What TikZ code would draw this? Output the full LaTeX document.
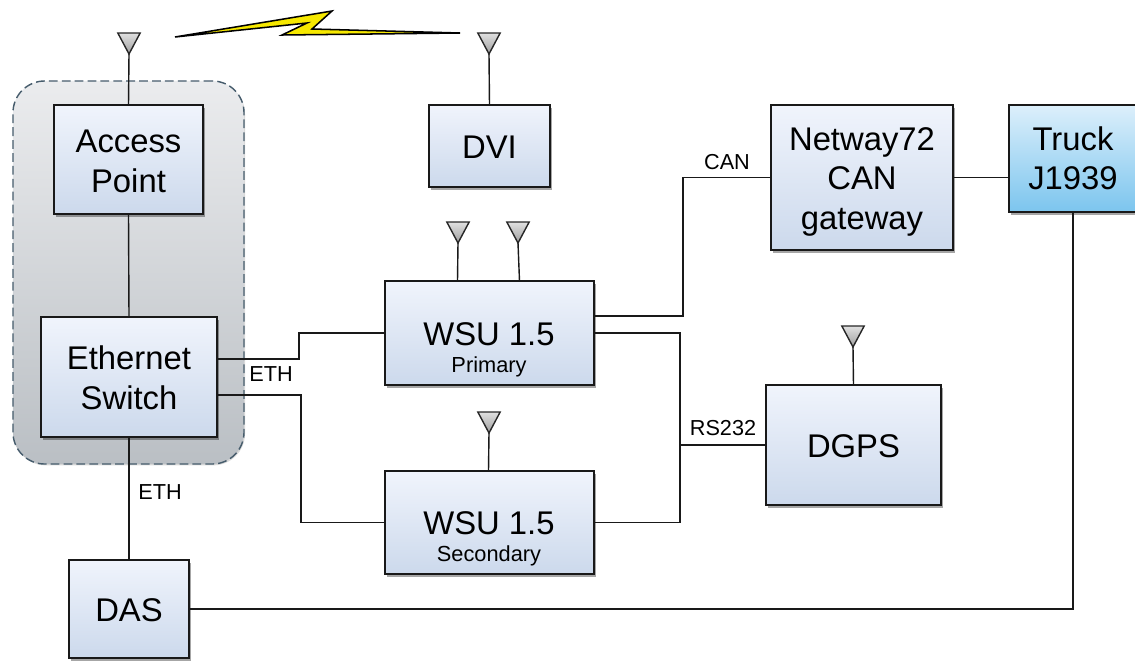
\documentclass[tikz,border=0pt]{standalone}
\usepackage{fontspec}
\setmainfont{Liberation Sans}
\usetikzlibrary{calc,shadows,shapes.geometric}
\newcommand{\lowfirst}[1]{\rule{0pt}{#1}}
\tikzset{
    unitbox/.style={draw=black!90, line width=1.2pt, rectangle, inner sep=0pt, outer sep=0pt, align=center,
        top color=boxtop, bottom color=boxbot,
        drop shadow={shadow xshift=0.07cm, shadow yshift=-0.08cm, fill=black, opacity=0.35},
        font=\fontsize{28}{33.5}\selectfont},
    truckbox/.style={unitbox, top color=trucktop, bottom color=truckbot},
    antenna/.style={draw=black!85, line width=1.2pt, isosceles triangle, isosceles triangle apex angle=56,
        shape border rotate=-90, minimum height=0.63cm, inner sep=0pt, outer sep=0pt, anchor=apex,
        top color=black!12, bottom color=black!38},
    wire/.style={draw=black!90, line width=1.2pt},
    tag/.style={font=\fontsize{18.5}{22}\selectfont},
    subtag/.style={font=\fontsize{18.6}{22}\selectfont}
}
\definecolor{boxtop}{HTML}{F0F4FC}
\definecolor{boxbot}{HTML}{CCD9EC}
\definecolor{trucktop}{HTML}{DCEFFB}
\definecolor{truckbot}{HTML}{7CC5EE}
\definecolor{grouptop}{HTML}{EBECEE}
\definecolor{groupbot}{HTML}{BABFC4}
\definecolor{groupline}{HTML}{465C6C}
\definecolor{boltfill}{HTML}{F6E800}
\begin{document}
\begin{tikzpicture}[x=0.03cm, y=-0.03cm]
    \useasboundingbox (0,0) rectangle (1135,660);
    \node[draw=groupline, line width=1.2pt, dash pattern=on 7.5pt off 3.5pt, rectangle, rounded corners=0.95cm,
        minimum width=6.93cm, minimum height=11.49cm, top color=grouptop, bottom color=groupbot,
        drop shadow={shadow xshift=0.03cm, shadow yshift=-0.04cm, fill=black, opacity=0.15}] (group) at (128.5,272.5) {};

    \node[unitbox, minimum width=4.47cm, minimum height=3.27cm] (ap) at (128.5,159.5) {\lowfirst{22.5pt}Access\\Point};
    \node[unitbox, minimum width=3.63cm, minimum height=2.46cm] (dvi) at (489.5,146) {\lowfirst{20.5pt}DVI};
    \node[unitbox, minimum width=5.46cm, minimum height=4.35cm] (net) at (862,177.5) {\lowfirst{27pt}Netway72\\CAN\\gateway};
    \node[truckbox, minimum width=3.84cm, minimum height=3.21cm] (truck) at (1073,158.5) {Truck\\J1939};
    \node[unitbox, minimum width=5.28cm, minimum height=3.6cm] (eth) at (129,377) {\lowfirst{21.5pt}Ethernet\\Switch};
    \node[unitbox, minimum width=6.27cm, minimum height=3.12cm] (wsuA) at (489.5,333) {};
    \node[unitbox, minimum width=6.27cm, minimum height=3.09cm] (wsuB) at (489.5,522.5) {};
    \node[unitbox, minimum width=5.25cm, minimum height=3.6cm] (dgps) at (853.5,445) {\lowfirst{21pt}DGPS};
    \node[unitbox, minimum width=3.6cm, minimum height=2.94cm] (das) at (129,609) {\lowfirst{21pt}DAS};

    \node[font=\fontsize{28}{33}\selectfont] (wsuAname) at (489,334) {WSU 1.5};
    \node[subtag] (wsuAsub) at (489,367) {Primary};
    \node[font=\fontsize{28}{33}\selectfont] (wsuBname) at (489,523) {WSU 1.5};
    \node[subtag] (wsuBsub) at (489,556) {Secondary};

    \node[antenna] (antAp) at (129,54) {};
    \node[antenna] (antDvi) at (489,54) {};
    \node[antenna] (antWsuA) at (458,243) {};
    \node[antenna] (antWsuB) at (518,243) {};
    \node[antenna] (antWsuC) at (489,433) {};
    \node[antenna] (antGps) at (853,347) {};

    \draw[wire] (antAp.apex) -- (ap.north);
    \draw[wire] (antDvi.apex) -- (dvi.north);
    \draw[wire] (antWsuA.apex) -- ($(wsuA.north)+(-32,0)$);
    \draw[wire] (antWsuB.apex) -- ($(wsuA.north)+(30,0)$);
    \draw[wire] (antWsuC.apex) -- ($(wsuB.north)+(-1,0)$);
    \draw[wire] (antGps.apex) -- (dgps.north);
    \draw[wire] (ap.south) -- (eth.north);
    \draw[wire] ($(eth.east)+(0,-18)$) -- ++(82,0) |- (wsuA.west);
    \draw[wire] ($(eth.east)+(0,18)$) -- ++(84,0) |- (wsuB.west);
    \draw[wire] (eth.south) -- (das.north);
    \draw[wire] ($(wsuA.east)+(0,-17)$) -- ++(89,0) |- (net.west);
    \draw[wire] (wsuA.east) -- ++(86,0) |- (dgps.west);
    \draw[wire] (wsuB.east) -- ++(86,0) |- (dgps.west);
    \draw[wire] (net.east) -- (truck.west |- net.east);
    \draw[wire] (das.east) -| (truck.south);

    \node[tag] (ethA) at (271,374) {ETH};
    \node[tag] (ethB) at (160,492) {ETH};
    \node[tag] (can) at (727,162) {CAN};
    \node[tag] (rs) at (723,428) {RS232};

    \draw[draw=black, line width=1.3pt, fill=boltfill, line join=miter] (175,37) -- (332,11) -- (312,29) -- (460,33) -- (282,35) -- (307,23) -- cycle;
\end{tikzpicture}
\end{document}
